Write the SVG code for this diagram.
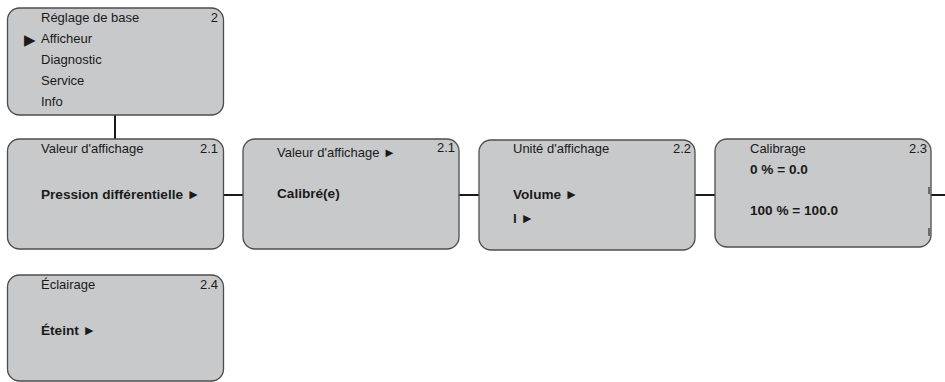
<svg xmlns="http://www.w3.org/2000/svg" width="945" height="382" viewBox="0 0 945 382">
<style>
.box{fill:#c8c9cb;stroke:#4d4d4d;stroke-width:1.3}
.t{font-family:"Liberation Sans",Arial,sans-serif;font-size:13px;fill:#1a1a1a}
.b{font-weight:bold;font-size:13.6px}
.r{text-anchor:end}
.c{stroke:#1a1a1a;stroke-width:2;fill:none}
.sb{stroke:#4d4d4d;stroke-width:1.5}
</style>
<rect width="945" height="382" fill="#ffffff"/>
<g id="connectors">
<line class="c" x1="115" y1="115" x2="115" y2="139"/>
<line class="c" x1="223" y1="195" x2="243" y2="195"/>
<line class="c" x1="459" y1="195" x2="479" y2="195"/>
<line class="c" x1="695" y1="195" x2="715" y2="195"/>
<line class="c" x1="931" y1="195" x2="945" y2="195"/>
</g>
<g id="menu">
<rect class="box" x="7.5" y="8" width="216" height="107" rx="12"/>
<text class="t" x="41" y="22">Réglage de base</text>
<text class="t r" x="218" y="22">2</text>
<text x="24" y="44.5" style="font-family:'DejaVu Sans',sans-serif;font-size:15px;fill:#1a1a1a">▶</text>
<text class="t" x="41" y="43">Afficheur</text>
<text class="t" x="41" y="64">Diagnostic</text>
<text class="t" x="41" y="85">Service</text>
<text class="t" x="41" y="106">Info</text>
</g>
<g id="valeur-affichage">
<rect class="box" x="7.5" y="139" width="216" height="110" rx="12"/>
<text class="t" x="41" y="153">Valeur d'affichage</text>
<text class="t r" x="218" y="153">2.1</text>
<text class="t b" x="41" y="199">Pression différentielle ►</text>
</g>
<g id="valeur-affichage-2">
<rect class="box" x="243" y="139" width="216" height="110" rx="12"/>
<text class="t" x="277" y="157">Valeur d'affichage ►</text>
<text class="t r" x="455" y="152">2.1</text>
<text class="t b" x="277" y="198">Calibré(e)</text>
</g>
<g id="unite-affichage">
<rect class="box" x="479" y="140" width="216" height="110" rx="12"/>
<text class="t" x="513" y="153">Unité d'affichage</text>
<text class="t r" x="691" y="153">2.2</text>
<text class="t b" x="513" y="199">Volume ►</text>
<text class="t b" x="513" y="223">l ►</text>
</g>
<g id="calibrage">
<rect class="box" x="715" y="139" width="216" height="108" rx="12"/>
<text class="t" x="750" y="153">Calibrage</text>
<text class="t r" x="927" y="153">2.3</text>
<text class="t b" x="750" y="174">0 % = 0.0</text>
<text class="t b" x="750" y="215">100 % = 100.0</text>
<line class="sb" x1="929" y1="187" x2="929" y2="194"/>
<line class="sb" x1="929" y1="228" x2="929" y2="236"/>
</g>
<g id="eclairage">
<rect class="box" x="7.5" y="275" width="216" height="106" rx="12"/>
<text class="t" x="41" y="289">Éclairage</text>
<text class="t r" x="218" y="289">2.4</text>
<text class="t b" x="41" y="335">Éteint ►</text>
</g>
</svg>
